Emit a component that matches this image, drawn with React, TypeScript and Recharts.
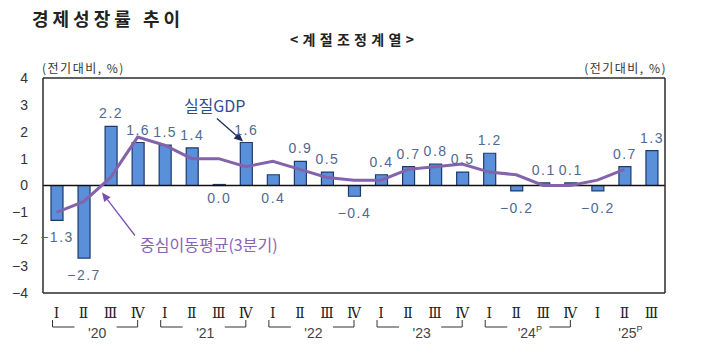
import React from "react";
import { ComposedChart, Bar, Line, XAxis, YAxis, ReferenceLine, LabelList } from "recharts";

const years = ["20", "21", "22", "23", "24", "25"];
const preliminaryYears = ["24", "25"];
const quarterNames = ["Ⅰ", "Ⅱ", "Ⅲ", "Ⅳ"];
const periods = years.flatMap((y) => quarterNames.map((_, q) => `${y}-${q + 1}`)).slice(0, 23);

// 실질GDP 전기대비 성장률(%)
const gdp = [-1.3, -2.7, 2.2, 1.6, 1.5, 1.4, 0.0, 1.6, 0.4, 0.9, 0.5, -0.4, 0.4, 0.7, 0.8, 0.5, 1.2, -0.2, 0.1, 0.1, -0.2, 0.7, 1.3];
// 중심이동평균(3분기)
const movingAvg = [-1.0, -0.6, 0.3, 1.8, 1.5, 1.0, 1.0, 0.7, 0.9, 0.6, 0.3, 0.2, 0.2, 0.6, 0.7, 0.8, 0.5, 0.4, 0.0, 0.0, 0.2, 0.6, null];
const yTicks = [-4, -3, -2, -1, 0, 1, 2, 3, 4];
// labels drawn under the bar even though not negative
const labelBelow = ["21-3", "22-1"];

const data = periods.map((p, i) => ({ period: p, idx: i + 0.5, gdp: gdp[i], ma: movingAvg[i] }));

const W = 710;
const H = 357;
const LEFT = 43;
const RIGHT = 45;
const TOP = 78;
const XAXIS_H = 64;
const STEP = (W - LEFT - RIGHT) / periods.length;

const FRAME = "#2b2b2b";
const BAR_FILL = "#5a8fd9";
const BAR_STROKE = "#1e3a6c";
const LINE = "#8363ab";
const LABEL = "#52698f";
const NUM_FONT = "'Liberation Sans', Arial, sans-serif";
const KR_FONT = "'Noto Sans CJK KR', 'Noto Sans', sans-serif";

const minus = (v: number) => String(v).replace("-", "−");

const QuarterTick = ({ x, y, payload }: any) => {
  const [yr, q] = String(payload.value).split("-");
  const qi = Number(q);
  const prelim = preliminaryYears.includes(yr);
  const full = periods.filter((p) => p.startsWith(yr + "-")).length === 4;
  return (
    <g>
      <text x={x} y={y + 25} textAnchor="middle" fontSize={14} fill="#222" fontFamily="'DejaVu Serif', 'Liberation Serif', serif">
        {quarterNames[qi - 1]}
      </text>
      {full && qi === 1 && (
        <path d={`M${x - 4},${y + 27} V${y + 34} H${x + 18}`} fill="none" stroke="#333" strokeWidth={1} />
      )}
      {full && qi === 4 && (
        <path d={`M${x - 21},${y + 34} H${x} V${y + 27}`} fill="none" stroke="#333" strokeWidth={1} />
      )}
      {qi === 2 && (
        <text x={x + (full ? STEP / 2 : 6)} y={y + 45} textAnchor="middle" fontSize={14} fill="#444" fontFamily={NUM_FONT}>
          {"'" + yr}
          {prelim && <tspan fontSize={9} dy={-6}>P</tspan>}
        </text>
      )}
    </g>
  );
};

const BarLabel = (props: any) => {
  const { x, y, width, height, value } = props;
  const cx = x + width / 2;
  const i = Math.round((cx - LEFT) / STEP - 0.5);
  const top = Math.min(y, y + height);
  const bottom = Math.max(y, y + height);
  const v = Number(value);
  const below = v < 0 || labelBelow.includes(periods[i]);
  const ty = below ? bottom + (v >= 0 ? 17 : 22) : top - 8;
  return (
    <text x={cx} y={ty} textAnchor="middle" fontSize={14} letterSpacing={1.5} fill={LABEL} fontFamily={NUM_FONT}>
      {v.toFixed(1).replace("-", "−")}
    </text>
  );
};

const arrowShape = (color: string) => (p: any) => {
  const { x1, y1, x2, y2 } = p;
  const ang = Math.atan2(y2 - y1, x2 - x1);
  const len = 9;
  const wid = 4;
  const bx = x2 - len * Math.cos(ang);
  const by = y2 - len * Math.sin(ang);
  const px = -Math.sin(ang) * wid;
  const py = Math.cos(ang) * wid;
  return (
    <g>
      <line x1={x1} y1={y1} x2={bx} y2={by} stroke={color} strokeWidth={1.3} />
      <path d={`M${x2},${y2} L${bx + px},${by + py} L${bx - px},${by - py} Z`} fill={color} />
    </g>
  );
};

export default function App() {
  return (
    <div style={{ position: "absolute", left: 0, top: 0, width: W, height: H, background: "#fff" }}>
      <div style={{ position: "absolute", left: 32, top: 5, fontFamily: KR_FONT, fontWeight: 700, fontSize: 18, letterSpacing: 4, color: "#222", whiteSpace: "nowrap" }}>
        경제성장률 추이
      </div>
      <div style={{ position: "absolute", left: 290, top: 29, fontFamily: KR_FONT, fontWeight: 700, fontSize: 14, letterSpacing: 4.3, color: "#222", whiteSpace: "nowrap" }}>
        &lt;계절조정계열&gt;
      </div>
      <div style={{ position: "absolute", left: 42, top: 59, fontFamily: KR_FONT, fontSize: 12, letterSpacing: 1.5, color: "#333", whiteSpace: "nowrap" }}>
        (전기대비, %)
      </div>
      <div style={{ position: "absolute", right: W - 667, top: 59, fontFamily: KR_FONT, fontSize: 12, letterSpacing: 1.5, color: "#333", whiteSpace: "nowrap" }}>
        (전기대비, %)
      </div>
      <ComposedChart width={W} height={H} data={data} margin={{ top: TOP, right: 0, bottom: 0, left: 0 }} barCategoryGap={0}>
        <XAxis dataKey="period" height={XAXIS_H} interval={0} tickSize={0} tickMargin={0} tick={<QuarterTick />} axisLine={{ stroke: FRAME, strokeWidth: 1.5 }} tickLine={false} />
        <XAxis xAxisId="n" dataKey="idx" type="number" domain={[0, 23]} allowDataOverflow hide />
        <YAxis yAxisId="l" domain={[-4, 4]} ticks={yTicks} width={LEFT} tickSize={0} tickMargin={15} axisLine={{ stroke: FRAME, strokeWidth: 1.5 }} tickLine={false}
          tickFormatter={minus} tick={{ fontSize: 14, fill: "#333", fontFamily: NUM_FONT }} />
        <YAxis yAxisId="r" orientation="right" domain={[-4, 4]} ticks={yTicks} width={RIGHT} tickSize={0} tickMargin={13} axisLine={{ stroke: FRAME, strokeWidth: 1.5 }} tickLine={false}
          tickFormatter={minus} tick={{ fontSize: 14, fill: "#333", fontFamily: NUM_FONT, textAnchor: "start" }} />
        <ReferenceLine yAxisId="l" y={4} stroke={FRAME} strokeWidth={1.5} />
        <ReferenceLine yAxisId="l" y={0} stroke="#111" strokeWidth={1.3} />
        <Bar yAxisId="l" dataKey="gdp" barSize={12} minPointSize={1} fill={BAR_FILL} stroke={BAR_STROKE} strokeWidth={1.2} isAnimationActive={false}>
          <LabelList dataKey="gdp" content={<BarLabel />} />
        </Bar>
        <Line yAxisId="l" dataKey="ma" type="linear" stroke={LINE} strokeWidth={3} dot={false} connectNulls={false} isAnimationActive={false} />
        <ReferenceLine xAxisId="n" yAxisId="l" segment={[{ x: 6.43, y: 2.49 }, { x: 7.4, y: 1.64 }]} shape={arrowShape("#1c2f5c")} />
        <ReferenceLine xAxisId="n" yAxisId="l" segment={[{ x: 3.4, y: -1.86 }, { x: 2.18, y: -0.26 }]} shape={arrowShape("#7b50b2")} />
        <ReferenceLine xAxisId="n" yAxisId="l" segment={[{ x: 5.21, y: 2.75 }, { x: 5.22, y: 2.75 }]}
          shape={(p: any) => <text x={p.x1} y={p.y1} fontSize={16} fill="#2e4d8f" fontFamily={KR_FONT}>실질GDP</text>} />
        <ReferenceLine xAxisId="n" yAxisId="l" segment={[{ x: 3.59, y: -2.45 }, { x: 3.6, y: -2.45 }]}
          shape={(p: any) => <text x={p.x1} y={p.y1} fontSize={16} fill="#8a63b8" fontFamily={KR_FONT}>중심이동평균(3분기)</text>} />
      </ComposedChart>
    </div>
  );
}
